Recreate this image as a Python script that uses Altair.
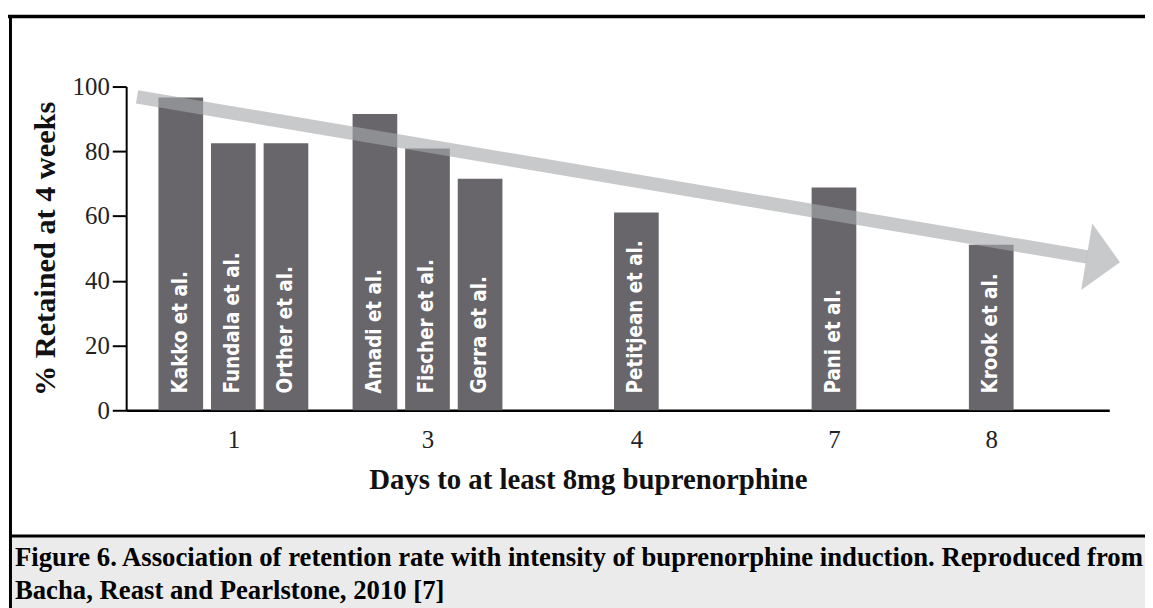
import altair as alt
import pandas as pd

# ---- data ----
studies = ["Kakko et al.", "Fundala et al.", "Orther et al.", "Amadi et al.",
           "Fischer et al.", "Gerra et al.", "Petitjean et al.", "Pani et al.", "Krook et al."]
days = [1, 1, 1, 3, 3, 3, 4, 7, 8]
retained = [96.6, 82.5, 82.5, 91.5, 80.9, 71.5, 61.1, 68.8, 51.1]

# x-axis category labels (days) and their slot on the (schematic) axis
day_labels = ["1", "3", "4", "7", "8"]
day_slots = [104, 301.5, 514, 715, 875]
bar_step = 53.5      # spacing of adjacent bars within a day group
axis_span = 990

# trend arrow (start, head base, tip)
arrow_x = [6, 972.5, 1006]
arrow_y = [96.8, 47.4, 45.7]
arrow_angle = 9.45

caption_lines = [
    "Figure 6. Association of retention rate with intensity of buprenorphine induction. Reproduced from",
    "Bacha, Reast and Pearlstone, 2010 [7]",
]

# ---- build tables ----
slot_of = dict(zip([int(d) for d in day_labels], day_slots))
rows = []
for d in sorted(set(days)):
    idx = [i for i, v in enumerate(days) if v == d]
    n = len(idx)
    for k, i in enumerate(idx):
        rows.append({"study": studies[i], "day": d, "retained": retained[i],
                     "pos": slot_of[d] + (k - (n - 1) / 2) * bar_step})
bars_df = pd.DataFrame(rows)
shaft_df = pd.DataFrame({"x": [arrow_x[0]], "y": [arrow_y[0]],
                         "x2": [arrow_x[1]], "y2": [arrow_y[1]]})
head_df = pd.DataFrame({"x": [arrow_x[2]], "y": [arrow_y[2]]})
cap_df = pd.DataFrame({"text": ["\n".join(caption_lines)]})

label_expr = " : ".join(
    [f"datum.value == {s} ? '{l}'" for s, l in zip(day_slots, day_labels)] + ["''"]
)

SERIF = "Liberation Serif, Times New Roman, serif"
BAR_COLOR = "#68666b"
ARROW_COLOR = "#a7a8ab"
ARROW_OPACITY = 0.62

xscale = alt.Scale(domain=[0, axis_span], nice=False, zero=False)
yscale = alt.Scale(domain=[0, 100], nice=False)

x_axis = alt.Axis(values=day_slots, labelExpr=label_expr, ticks=False, grid=False,
                  domainColor="black", domainWidth=2.5,
                  labelFont=SERIF, labelFontSize=25, labelColor="#222",
                  labelPadding=17,
                  title="Days to at least 8mg buprenorphine",
                  titleFont=SERIF, titleFontSize=29, titleFontWeight="bold",
                  titleColor="#111", titleBaseline="alphabetic", titleY=79, titleX=465)
y_axis = alt.Axis(values=[0, 20, 40, 60, 80, 100], grid=False,
                  domainColor="black", domainWidth=2,
                  tickColor="black", tickWidth=2, tickSize=14,
                  labelFont=SERIF, labelFontSize=25, labelColor="#222",
                  labelPadding=3,
                  title="% Retained at 4 weeks",
                  titleFont=SERIF, titleFontSize=30.5, titleFontWeight="bold",
                  titleColor="#111", titleBaseline="middle", titleX=-81)

one = pd.DataFrame({"a": [0]})
# caption background and frame (decoration)
caption_bg = alt.Chart(one).mark_rect(color="#ebebeb").encode(
    x=alt.value(-117), x2=alt.value(1030), y=alt.value(452.5), y2=alt.value(530)
)
frame_top = alt.Chart(one).mark_rule(color="black", strokeWidth=3.5).encode(
    x=alt.value(-119), x2=alt.value(1030), y=alt.value(-70.5)
)
frame_left = alt.Chart(one).mark_rule(color="black", strokeWidth=3).encode(
    x=alt.value(-116.5), y=alt.value(-72), y2=alt.value(530)
)
frame_sep = alt.Chart(one).mark_rule(color="black", strokeWidth=3).encode(
    x=alt.value(-118), x2=alt.value(1030), y=alt.value(452.5)
)

bars = alt.Chart(bars_df).mark_bar(color=BAR_COLOR, width=45).encode(
    x=alt.X("pos:Q", scale=xscale, axis=x_axis),
    y=alt.Y("retained:Q", scale=yscale, axis=y_axis),
)

bar_labels = alt.Chart(bars_df).mark_text(
    angle=270, align="left", baseline="middle", dx=17, dy=0, color="white",
    font="DejaVu Sans Condensed, Liberation Sans Narrow, sans-serif",
    fontWeight="bold", fontSize=20.5,
).encode(
    x=alt.X("pos:Q", scale=xscale, axis=x_axis),
    y=alt.datum(0, scale=yscale, axis=y_axis),
    text="study:N",
)

shaft = alt.Chart(shaft_df).mark_rule(
    color=ARROW_COLOR, opacity=ARROW_OPACITY, strokeWidth=13.5, strokeCap="butt"
).encode(
    x=alt.X("x:Q", scale=xscale, axis=x_axis),
    y=alt.Y("y:Q", scale=yscale, axis=y_axis),
    x2="x2:Q", y2="y2:Q",
)

head = alt.Chart(head_df).mark_point(
    shape="M0,0L-1,-1L-1,1Z", size=4624, angle=arrow_angle, filled=True,
    color=ARROW_COLOR, opacity=ARROW_OPACITY, strokeWidth=0,
).encode(
    x=alt.X("x:Q", scale=xscale, axis=x_axis),
    y=alt.Y("y:Q", scale=yscale, axis=y_axis),
)

caption = alt.Chart(cap_df).mark_text(
    align="left", baseline="alphabetic", font=SERIF, fontWeight="bold",
    fontSize=26.9, color="#000", lineBreak="\n", lineHeight=33,
).encode(
    x=alt.value(-112),
    y=alt.value(483),
    text="text:N",
)

chart = alt.layer(
    caption_bg, frame_top, frame_left, frame_sep,
    bars, bar_labels, shaft, head, caption,
).properties(
    width=990, height=326,
    padding={"left": 119, "top": 77, "right": 36, "bottom": 197},
    autosize="none", background="white",
).configure_view(stroke=None)

chart.save("out.html", embed_options={"renderer": "svg", "actions": False})
